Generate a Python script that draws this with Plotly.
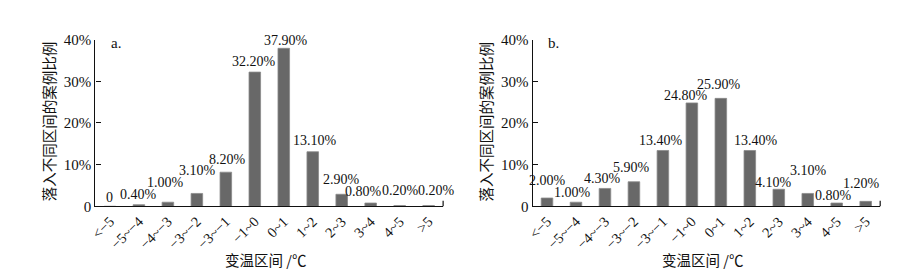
import plotly.graph_objects as go

categories = ["<−5", "−5~−4", "−4~−3", "−3~−2", "−3~−1", "−1~0",
              "0~1", "1~2", "2~3", "3~4", "4~5", ">5"]
values_a = [0.0, 0.4, 1.0, 3.1, 8.2, 32.2, 37.9, 13.1, 2.9, 0.8, 0.2, 0.2]
values_b = [2.0, 1.0, 4.3, 5.9, 13.4, 24.8, 25.9, 13.4, 4.1, 3.1, 0.8, 1.2]
labels_a = ["0", "0.40%", "1.00%", "3.10%", "8.20%", "32.20%", "37.90%",
            "13.10%", "2.90%", "0.80%", "0.20%", "0.20%"]
labels_b = ["2.00%", "1.00%", "4.30%", "5.90%", "13.40%", "24.80%", "25.90%",
            "13.40%", "4.10%", "3.10%", "0.80%", "1.20%"]
y_ticks = [0, 10, 20, 30, 40]
y_ticktext = ["0", "10%", "20%", "30%", "40%"]
panel_tags = ["a.", "b."]
y_title = "落入不同区间的案例比例"
x_title = "变温区间 /℃"

# label placement nudges (pixels) to stagger value labels as in the reference
lift_a = [9, 10, 20, 23, 13, 11, 8, 11, 15, 12, 15, 15]
lift_b = [18, 10, 10, 14, 10, 7, 14, 10, 7, 23, 8, 18]
nudge_a = [0, 0, -2, 1, 2, -1, 2, 2, 0, -7, 1, 8]
nudge_b = [0, -3, -2, -2, -2, -6, -2, 6, -5, 1, -3, -4]

W, H = 900, 278
SERIF = "Liberation Serif"
CJK = "Noto Sans CJK SC"
BAR = "#686868"

fig = go.Figure()
xs = list(range(len(categories)))
for i, vals in enumerate([values_a, values_b]):
    xa = "x" if i == 0 else "x2"
    ya = "y" if i == 0 else "y2"
    fig.add_trace(go.Bar(
        x=xs, y=vals, cliponaxis=False,
        marker=dict(color=BAR, line=dict(color="#8a8a8a", width=0.8)),
        width=0.4, xaxis=xa, yaxis=ya, showlegend=False, hoverinfo="skip"))

y0 = 1 - 202 / H
y1 = 1 - 25 / H
doms = [(82 / W, 432 / W), (522 / W, 872 / W)]

def xaxis(dom, anchor):
    return dict(domain=list(dom), anchor=anchor, range=[-0.5, 11.5],
                tickmode="array", tickvals=xs,
                ticktext=categories, tickangle=-45, ticks="",
                showline=True, linecolor="#111", linewidth=1.2,
                showgrid=False, zeroline=False,
                tickfont=dict(family=SERIF, size=14.5, color="#111"))

def yaxis(anchor):
    return dict(domain=[y0, y1], anchor=anchor, range=[0, 40],
                tickmode="array", tickvals=y_ticks, ticktext=y_ticktext,
                ticks="inside", ticklen=5, tickcolor="#111", tickwidth=1.2,
                showline=True, linecolor="#111", linewidth=1.2,
                showgrid=False, zeroline=False,
                tickfont=dict(family=SERIF, size=15, color="#111"))

fig.update_layout(
    width=W, height=H, margin=dict(l=0, r=0, t=0, b=0),
    paper_bgcolor="white", plot_bgcolor="white",
    font=dict(family=SERIF),
    xaxis=xaxis(doms[0], "y"), yaxis=yaxis("x"),
    xaxis2=xaxis(doms[1], "y2"), yaxis2=yaxis("x2"),
)

anns = []
shapes = []
panels = [(values_a, labels_a, lift_a, nudge_a), (values_b, labels_b, lift_b, nudge_b)]
for i, dom in enumerate(doms):
    left_px = dom[0] * W
    xr = "x" if i == 0 else "x2"
    yr = "y" if i == 0 else "y2"
    vals, labs, lifts, nudges = panels[i]
    for k in xs:
        anns.append(dict(xref=xr, yref=yr, x=k, y=vals[k], text=labs[k],
                         showarrow=False, xanchor="center", yanchor="middle",
                         yshift=lifts[k], xshift=nudges[k],
                         font=dict(family=SERIF, size=14, color="#111")))
    anns.append(dict(xref="paper", yref="paper", x=(left_px + 21) / W, y=1 - 29 / H,
                     text=panel_tags[i], showarrow=False, xanchor="center", yanchor="middle",
                     font=dict(family=SERIF, size=15, color="#111")))
    anns.append(dict(xref="paper", yref="paper", x=(left_px - 47) / W, y=1 - 112 / H,
                     text=y_title, textangle=-90, showarrow=False,
                     xanchor="center", yanchor="middle",
                     font=dict(family=CJK, size=14.5, color="#111")))
    anns.append(dict(xref="paper", yref="paper", x=(left_px + 171) / W, y=1 - 258 / H,
                     text=x_title, showarrow=False, xanchor="center", yanchor="middle",
                     font=dict(family=CJK, size=14.5, color="#111")))
    shapes.append(dict(type="line", xref="paper", yref="paper",
                       x0=dom[1], x1=dom[1], y0=y0, y1=y0 + 6 / H,
                       line=dict(color="#111", width=1.2)))

fig.update_layout(annotations=anns, shapes=shapes)
fig.write_html("out.html")
